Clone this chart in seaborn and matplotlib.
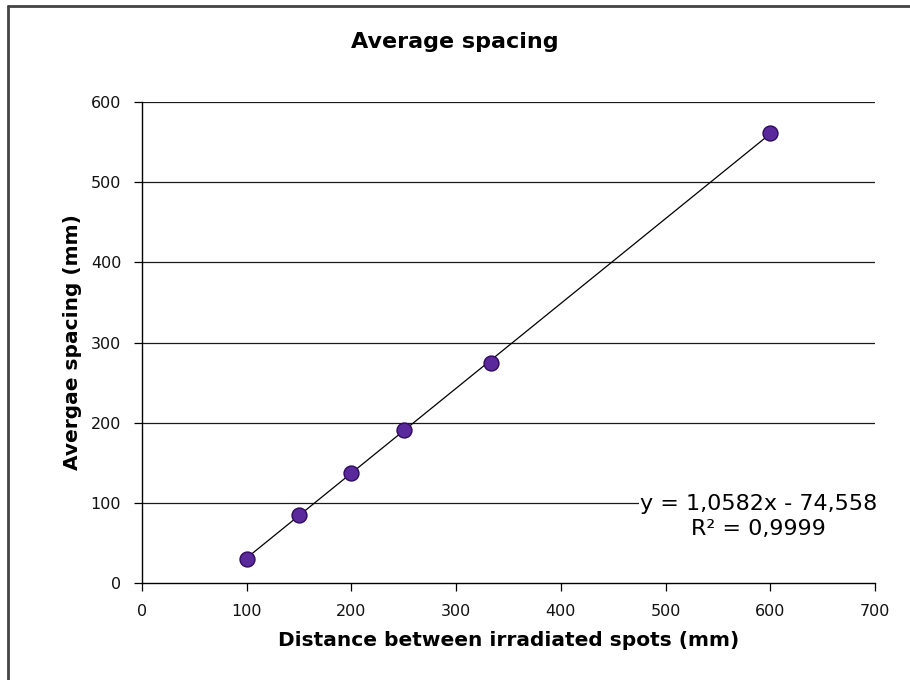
import matplotlib
matplotlib.use("Agg")
import matplotlib.pyplot as plt
from matplotlib.lines import Line2D
import numpy as np
import pandas as pd
import seaborn as sns

# Measured data
distance = [100, 150, 200, 250, 333, 600]
spacing = [30, 85, 137, 191, 274, 561]

# Linear trendline coefficients
slope = 1.0582
intercept = -74.558
r_squared = 0.9999

x_ticks = [0, 100, 200, 300, 400, 500, 600, 700]
y_ticks = [0, 100, 200, 300, 400, 500, 600]

sns.set_theme(style="white")
plt.rcParams["font.family"] = ["DejaVu Sans"]

df = pd.DataFrame({"distance": distance, "spacing": spacing})
trend_x = np.array([min(distance), max(distance)], dtype=float)
trend = pd.DataFrame({"x": trend_x, "y": slope * trend_x + intercept})

fig = plt.figure(figsize=(9.1, 6.8), dpi=100)
ax = fig.add_axes([0.156, 0.1426, 0.8055, 0.7074])

for yv in y_ticks[1:]:
    ax.axhline(yv, color="#1a1a1a", lw=0.9, zorder=1)

sns.lineplot(data=trend, x="x", y="y", ax=ax, color="black", lw=0.9, zorder=2)
sns.scatterplot(data=df, x="distance", y="spacing", ax=ax, s=115,
                color="#5A2A9C", edgecolor="#2E0A5E", linewidth=1.0, zorder=3)

ax.set_xlim(0, 700)
ax.set_ylim(0, 600)
ax.set_xticks(x_ticks)
ax.set_yticks(y_ticks)
ax.set_xticklabels([str(v) for v in x_ticks])
ax.set_yticklabels([str(v) for v in y_ticks])
ax.tick_params(axis="both", which="major", direction="out", length=6, width=0.9,
               color="black", bottom=True, left=True, labelsize=11.5,
               labelcolor="#111111")
ax.tick_params(axis="x", pad=9)
ax.tick_params(axis="y", pad=9)

for side in ["top", "right"]:
    ax.spines[side].set_visible(False)
for side in ["left", "bottom"]:
    ax.spines[side].set_color("black")
    ax.spines[side].set_linewidth(1.0)

ax.set_xlabel("Distance between irradiated spots (mm)", fontsize=14.5,
              fontweight="bold", labelpad=9, color="black")
ax.set_ylabel("Avergae spacing (mm)", fontsize=14.5, fontweight="bold",
              labelpad=6, color="black")

fig.text(0.5, 0.938, "Average spacing", ha="center", va="center",
         fontsize=16, fontweight="bold", color="black")

eq_text = f"y = {slope:.4f}x - {abs(intercept):.3f}".replace(".", ",") + "\n" + \
          f"R² = {r_squared:.4f}".replace(".", ",")
ax.text(589, 83, eq_text, ha="center", va="center", fontsize=16, linespacing=1.35,
        color="black",
        bbox=dict(facecolor="white", edgecolor="none", pad=1), zorder=4)

# Frame lines along the top and left of the figure
fig.add_artist(Line2D([0.0093, 1.0], [0.9912, 0.9912], transform=fig.transFigure,
                      color="#444444", lw=2.0))
fig.add_artist(Line2D([0.0093, 0.0093], [0.0, 0.9912], transform=fig.transFigure,
                      color="#444444", lw=2.0))

fig.savefig("out.png", dpi=100, facecolor="white")
